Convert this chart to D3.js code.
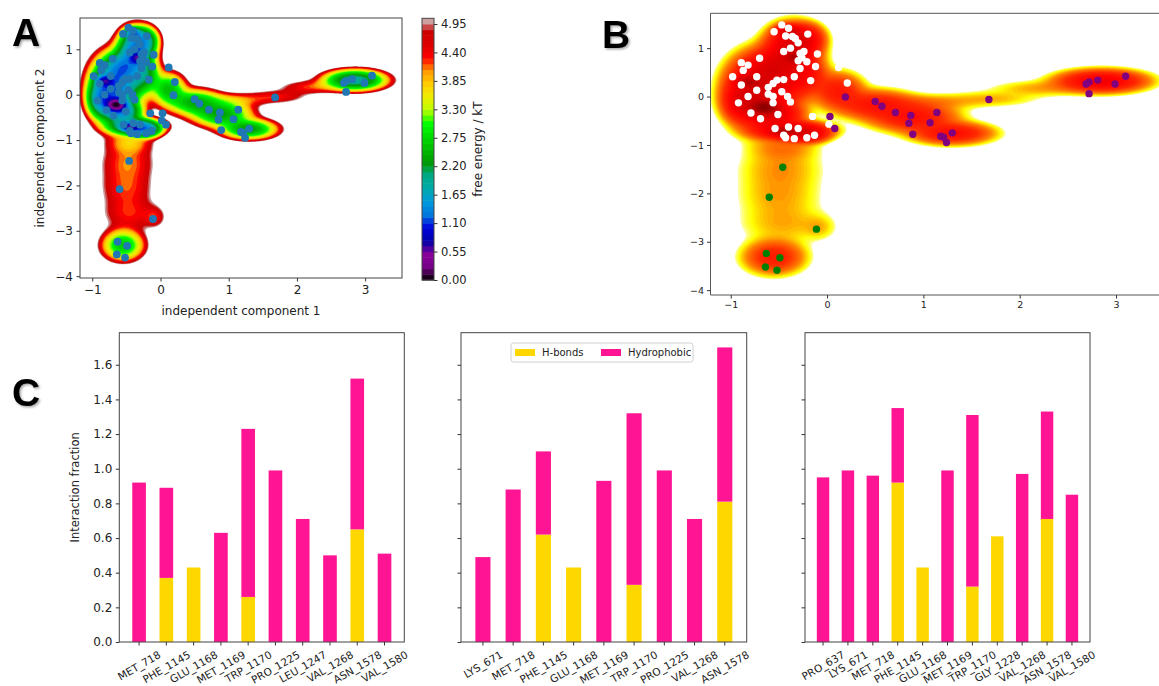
<!DOCTYPE html>
<html><head><meta charset="utf-8">
<script src="https://cdn.jsdelivr.net/npm/d3@7"></script>
<style>body{margin:0;background:#fff} svg{display:block}</style>
</head><body><svg id="c" width="1159" height="686"></svg>
<script>
// ---------------- DATA ----------------
// free-energy landscape basins read from the map: [x, y, spreadX, spreadY, population]
const basins = [
  [-0.72, 0.12, 0.17, 0.36, 0.18],
  [-0.36, 1.00, 0.14, 0.24, 0.18],
  [-0.38, -0.70, 0.20, 0.10, 0.16],
  [-0.45, 0.35, 0.18, 0.30, 0.07],
  [-0.22, 0.45, 0.12, 0.20, 0.05],
  [-0.55, 0.62, 0.14, 0.18, 0.10],
  [-0.55, -0.38, 0.15, 0.14, 0.12],
  [-0.88, -0.10, 0.10, 0.20, 0.10],
  [-0.22, -0.78, 0.12, 0.09, 0.10],
  [-0.22, 1.20, 0.10, 0.15, 0.08],
  [-0.65, -0.22, 0.08, 0.08, 0.50],
  [-0.33, 0.80, 0.06, 0.07, 0.22],
  [-0.45, -0.72, 0.07, 0.05, 0.22],
  [-0.82, 0.30, 0.07, 0.07, 0.20],
  [-0.40, 1.35, 0.07, 0.07, 0.15],
  [0.12, 0.12, 0.14, 0.20, 0.050],
  [0.50, -0.17, 0.22, 0.16, 0.055],
  [0.90, -0.43, 0.24, 0.16, 0.060],
  [1.30, -0.76, 0.22, 0.12, 0.065],
  [1.05, -0.12, 0.30, 0.10, 0.010],
  [1.70, -0.05, 0.30, 0.10, 0.008],
  [2.20, 0.17, 0.30, 0.10, 0.009],
  [2.85, 0.32, 0.24, 0.12, 0.105],
  [-0.45, -1.05, 0.20, 0.15, 0.012],
  [-0.48, -1.45, 0.26, 0.28, 0.010],
  [-0.50, -2.05, 0.26, 0.30, 0.009],
  [-0.45, -2.65, 0.28, 0.25, 0.008],
  [-0.08, -2.70, 0.10, 0.15, 0.006],
  [-0.55, -3.32, 0.17, 0.19, 0.048]
];
const whitePts = [[-0.55,1.34],[-0.47,1.48],[-0.40,1.41],[-0.43,1.25],[-0.36,1.24],[-0.30,1.11],[-0.20,1.29],[-0.45,0.93],[-0.38,1.00],[-0.28,0.89],[-0.24,0.93],[-0.10,0.88],[-0.30,0.74],[-0.21,0.72],[-0.12,0.62],[-0.28,0.58],[-0.34,0.41],[-0.17,0.33],[0.12,0.60],[0.21,0.28],
 [-0.89,0.70],[-0.82,0.65],[-0.70,0.79],[-0.98,0.41],[-0.73,0.41],[-0.89,0.24],[-0.82,0.00],[-0.73,0.13],[-0.61,0.19],[-0.56,0.27],[-0.52,0.34],[-0.45,0.35],[-0.61,0.05],[-0.56,0.00],[-0.47,0.10],[-0.41,0.00],[-0.38,-0.11],[-0.51,-0.37],[-0.56,-0.13],[-0.92,-0.13],[-0.79,-0.34],[-0.69,-0.46],
 [-0.54,-0.66],[-0.45,-0.80],[-0.40,-0.63],[-0.30,-0.66],[-0.34,-0.87],[-0.21,-0.85],[-0.13,-0.80],[-0.15,-0.41],[0.02,-0.57],[-0.43,-0.85],[-0.87,0.54],[-0.33,1.20],[-0.26,0.80]];
const purplePts = [[0.19,-0.01],[0.03,-0.41],[0.08,-0.66],[0.50,-0.10],[0.57,-0.20],[0.71,-0.33],[0.87,-0.39],[0.85,-0.55],[0.89,-0.78],[1.07,-0.54],[1.14,-0.33],[1.18,-0.82],[1.21,-0.84],[1.24,-0.95],[1.30,-0.75],[1.68,-0.06],[2.69,0.26],[2.72,0.30],[2.81,0.34],[2.72,0.06],[2.99,0.26],[3.10,0.42]];
const greenPts = [[-0.46,-1.46],[-0.60,-2.08],[-0.11,-2.74],[-0.63,-3.24],[-0.49,-3.33],[-0.64,-3.52],[-0.52,-3.59]];
const mapXTicks = [-1,0,1,2,3];
const mapYTicks = [-4,-3,-2,-1,0,1];
const cbTicks = [0,0.55,1.10,1.65,2.20,2.75,3.30,3.85,4.40,4.95];
const cbMax = 5.06, cbStep = 0.11;

const res1 = ["MET_718","PHE_1145","GLU_1168","MET_1169","TRP_1170","PRO_1225","LEU_1247","VAL_1268","ASN_1578","VAL_1580"];
const hb1  = [0,0.37,0.43,0,0.26,0,0,0,0.65,0];
const hp1  = [0.92,0.52,0,0.63,0.97,0.99,0.71,0.50,0.87,0.51];
const res2 = ["LYS_671","MET_718","PHE_1145","GLU_1168","MET_1169","TRP_1170","PRO_1225","VAL_1268","ASN_1578"];
const hb2  = [0,0,0.62,0.43,0,0.33,0,0,0.81];
const hp2  = [0.49,0.88,0.48,0,0.93,0.99,0.99,0.71,0.89];
const res3 = ["PRO_637","LYS_671","MET_718","PHE_1145","GLU_1168","MET_1169","TRP_1170","GLY_1228","VAL_1268","ASN_1578","VAL_1580"];
const hb3  = [0,0,0,0.92,0.43,0,0.32,0.61,0,0.71,0];
const hp3  = [0.95,0.99,0.96,0.43,0,0.99,0.99,0,0.97,0.62,0.85];
const barTicks = [0,0.2,0.4,0.6,0.8,1.0,1.2,1.4,1.6];

// ---------------- HELPERS ----------------
const FONT = "DejaVu Sans, sans-serif";
const svg = d3.select('#c');
const defs = svg.append('defs');
defs.append('filter').attr('id','sh').attr('x','-20%').attr('y','-20%').attr('width','150%').attr('height','150%')
  .append('feDropShadow').attr('dx',1.5).attr('dy',1.5).attr('stdDeviation',1.3).attr('flood-color','#000').attr('flood-opacity',0.35);

const NS_R=[0,.4667,.5333,0,0,0,0,0,0,0,0,0,0,.7333,.9333,1,1,1,.8667,.8,.8];
const NS_G=[0,0,0,0,0,.4667,.6,.6667,.6667,.6,.7333,.8667,1,1,.9333,.8,.6,0,0,0,.8];
const NS_B=[0,.5333,.6,.6667,.8667,.8667,.8667,.6667,.5333,0,0,0,0,0,0,0,0,0,0,0,.8];
function nipy(t){t=Math.max(0,Math.min(1,t));const p=t*20,i=Math.min(19,Math.floor(p)),f=p-i;
  const c=a=>Math.round(255*(a[i]+(a[i+1]-a[i])*f));return `rgb(${c(NS_R)},${c(NS_G)},${c(NS_B)})`;}
function hot(t){const cl=v=>Math.max(0,Math.min(1,v));
  return `rgb(${Math.round(255*cl(t/0.365))},${Math.round(255*cl((t-0.365)/0.381))},${Math.round(255*cl((t-0.746)/0.254))})`;}
const tB = d3.scaleLinear().domain([0,1.0,2.0,3.0,4.0,4.7,5.2,5.5]).range([0.2,0.3,0.36,0.43,0.56,0.7,0.82,0.93]).clamp(true);

function field(xs, ys, nx, ny){
  const [xa,xb]=xs.domain(), [ya,yb]=ys.domain();
  const dx=(xb-xa)/nx, dy=(yb-ya)/ny;
  const v=new Float64Array(nx*ny);
  for(let j=0;j<ny;j++){const y=yb-(j+0.5)*dy;
    for(let i=0;i<nx;i++){const x=xa+(i+0.5)*dx;let r=0;
      for(const [bx,by,sx,sy,w] of basins){const u=(x-bx)/sx,q=(y-by)/sy;r+=w*Math.exp(-0.5*(u*u+q*q));}
      v[j*nx+i]=r;}}
  const m=d3.max(v);
  for(let k=0;k<v.length;k++) v[k]=Math.log(Math.max(v[k],1e-300)/m); // = -F
  const path=d3.geoPath(d3.geoTransform({point(px,py){this.stream.point(xs(xa+px*dx), ys(yb-py*dy));}}));
  return {v,path,nx,ny};
}
function styleAxis(g, fs){
  g.attr('font-family',FONT).attr('font-size',fs);
  g.select('.domain').remove();
  g.selectAll('.tick line').attr('stroke','#333');
  g.selectAll('.tick text').attr('fill','#222');
}
function panelLetter(t,x,y){
  svg.append('text').attr('x',x).attr('y',y).text(t).attr('font-family','Liberation Sans, Arial, sans-serif')
    .attr('font-weight','bold').attr('font-size',39).attr('fill','#000').attr('filter','url(#sh)');
}

// ---------------- PANEL A ----------------
const A={x0:80,x1:402,y0:18,y1:278};
const ax=d3.scaleLinear().domain([-1.18,3.54]).range([A.x0,A.x1]);
const ay=d3.scaleLinear().domain([-4.04,1.69]).range([A.y1,A.y0]);
defs.append('clipPath').attr('id','clipA').append('rect').attr('x',A.x0).attr('y',A.y0).attr('width',A.x1-A.x0).attr('height',A.y1-A.y0);
const gA=svg.append('g').attr('clip-path','url(#clipA)');
const fA=field(ax,ay,300,270);
const levA=d3.range(1,47).map(i=>i*cbStep);
const contA=d3.contours().size([fA.nx,fA.ny]).thresholds(levA.map(L=>-L))(fA.v);
gA.selectAll('path').data(contA).join('path').attr('d',fA.path)
  .attr('fill',d=>nipy((-d.value-cbStep/2)/cbMax));
const allPts=whitePts.concat(purplePts,greenPts);
gA.selectAll('circle').data(allPts).join('circle').attr('cx',d=>ax(d[0])).attr('cy',d=>ay(d[1])).attr('r',3.9).attr('fill','#1f77b4');
svg.append('rect').attr('x',A.x0).attr('y',A.y0).attr('width',A.x1-A.x0).attr('height',A.y1-A.y0).attr('fill','none').attr('stroke','#444');
styleAxis(svg.append('g').attr('transform',`translate(0,${A.y1})`).call(d3.axisBottom(ax).tickValues(mapXTicks).tickFormat(d3.format('d')).tickSize(3.5).tickPadding(3.5)),12);
styleAxis(svg.append('g').attr('transform',`translate(${A.x0},0)`).call(d3.axisLeft(ay).tickValues(mapYTicks).tickFormat(d3.format('d')).tickSize(3.5).tickPadding(3.5)),12);
svg.append('text').attr('x',(A.x0+A.x1)/2).attr('y',315).attr('text-anchor','middle').attr('font-family',FONT).attr('font-size',12).attr('fill','#222').text('independent component 1');
svg.append('text').attr('transform',`translate(44,${(A.y0+A.y1)/2}) rotate(-90)`).attr('text-anchor','middle').attr('font-family',FONT).attr('font-size',12).attr('fill','#222').text('independent component 2');
// colorbar
const cbY=d3.scaleLinear().domain([0,cbMax]).range([280,18.3]);
const cbBands=d3.range(0,46).map(i=>i*cbStep);
svg.append('g').selectAll('rect').data(cbBands).join('rect').attr('x',422).attr('width',12)
  .attr('y',d=>cbY(d+cbStep)).attr('height',d=>cbY(d)-cbY(d+cbStep)+0.5).attr('fill',d=>nipy((d+cbStep/2)/cbMax));
svg.append('rect').attr('x',422).attr('y',18.3).attr('width',12).attr('height',280-18.3).attr('fill','none').attr('stroke','#444');
styleAxis(svg.append('g').attr('transform','translate(434,0)').call(d3.axisRight(cbY).tickValues(cbTicks).tickFormat(d3.format('.2f')).tickSize(3.5).tickPadding(3.5)),11.5);
svg.append('text').attr('transform','translate(478,149) rotate(-90)').attr('text-anchor','middle').attr('dominant-baseline','central').attr('font-family',FONT).attr('font-size',12).attr('fill','#222').text('free energy / kT');

// ---------------- PANEL B ----------------
const B={x0:710.5,x1:1169,y0:13.3,y1:295};
const bx=d3.scaleLinear().domain([-1.21,3.55]).range([B.x0,B.x1]);
const by=d3.scaleLinear().domain([-4.10,1.72]).range([B.y1,B.y0]);
defs.append('clipPath').attr('id','clipB').append('rect').attr('x',B.x0).attr('y',B.y0).attr('width',B.x1-B.x0).attr('height',B.y1-B.y0);
const gB=svg.append('g').attr('clip-path','url(#clipB)');
const fB=field(bx,by,320,260);
const levB=d3.range(1,56).map(i=>i*0.1);
const contB=d3.contours().size([fB.nx,fB.ny]).thresholds(levB.map(L=>-L))(fB.v);
gB.selectAll('path').data(contB).join('path').attr('d',fB.path).attr('fill',d=>hot(tB(-d.value-0.05)));
gB.append('g').selectAll('circle').data(whitePts).join('circle').attr('cx',d=>bx(d[0])).attr('cy',d=>by(d[1])).attr('r',3.7).attr('fill','#fff');
gB.append('g').selectAll('circle').data(purplePts).join('circle').attr('cx',d=>bx(d[0])).attr('cy',d=>by(d[1])).attr('r',3.7).attr('fill','#800080');
gB.append('g').selectAll('circle').data(greenPts).join('circle').attr('cx',d=>bx(d[0])).attr('cy',d=>by(d[1])).attr('r',3.7).attr('fill','#008000');
svg.append('path').attr('d',`M${B.x1},${B.y0}H${B.x0}V${B.y1}H${B.x1}`).attr('fill','none').attr('stroke','#555');
styleAxis(svg.append('g').attr('transform',`translate(0,${B.y1})`).call(d3.axisBottom(bx).tickValues(mapXTicks).tickFormat(d3.format('d')).tickSize(3.5).tickPadding(3)),9.5);
styleAxis(svg.append('g').attr('transform',`translate(${B.x0},0)`).call(d3.axisLeft(by).tickValues(mapYTicks).tickFormat(d3.format('d')).tickSize(3.5).tickPadding(3)),9.5);

// ---------------- PANEL C ----------------
const cy0=332.7, cy1=642;
const yC=d3.scaleLinear().domain([0,1.785]).range([cy1,cy0]);
const LBL=10.5;
function barChart(x0,x1,res,hb,hp,showLabels){
  const xs=d3.scaleBand().domain(res).range([x0,x1]).paddingInner(0.5).paddingOuter(0.475);
  const g=svg.append('g');
  g.selectAll('.hb').data(res).join('rect').attr('x',d=>xs(d)).attr('width',xs.bandwidth())
    .attr('y',(d,i)=>yC(hb[i])).attr('height',(d,i)=>yC(0)-yC(hb[i])).attr('fill','#ffd700');
  g.selectAll('.hp').data(res).join('rect').attr('x',d=>xs(d)).attr('width',xs.bandwidth())
    .attr('y',(d,i)=>yC(hb[i]+hp[i])).attr('height',(d,i)=>yC(hb[i])-yC(hb[i]+hp[i])).attr('fill','#ff1493');
  svg.append('rect').attr('x',x0).attr('y',cy0).attr('width',x1-x0).attr('height',cy1-cy0).attr('fill','none').attr('stroke','#444');
  const ga=svg.append('g').attr('transform',`translate(0,${cy1})`).call(d3.axisBottom(xs).tickSize(3.5).tickFormat(''));
  styleAxis(ga,LBL);
  ga.selectAll('.tick').each(function(d){
    const t=d3.select(this).append('text').attr('fill','#222').attr('text-anchor','middle').attr('dominant-baseline','central').text(d);
    const w=t.node().getComputedTextLength();
    const c=7+(w*0.5+LBL*0.866)/2;
    t.attr('transform',`translate(0,${c}) rotate(-30)`);
  });
  const gy=svg.append('g').attr('transform',`translate(${x0},0)`).call(d3.axisLeft(yC).tickValues(barTicks).tickSize(3.5).tickPadding(3.5).tickFormat(showLabels?d3.format('.1f'):''));
  styleAxis(gy,12);
  return xs;
}
barChart(119.3,404.3,res1,hb1,hp1,true);
barChart(461,746.7,res2,hb2,hp2,false);
barChart(805,1090,res3,hb3,hp3,false);
svg.append('text').attr('transform',`translate(79,${(cy0+cy1)/2}) rotate(-90)`).attr('text-anchor','middle').attr('font-family',FONT).attr('font-size',11.5).attr('fill','#222').text('Interaction fraction');
// legend
const lg=svg.append('g').attr('font-family',FONT).attr('font-size',10).attr('fill','#222');
lg.append('rect').attr('x',511).attr('y',343).attr('width',182).attr('height',19).attr('rx',2.5).attr('fill','#fff').attr('stroke','#d0d0d0');
const legendItems=[["H-bonds","#ffd700",515],["Hydrophobic","#ff1493",601]];
legendItems.forEach(([name,col,x])=>{
  lg.append('rect').attr('x',x).attr('y',349).attr('width',20).attr('height',7).attr('fill',col);
  lg.append('text').attr('x',x+27).attr('y',356).text(name);
});

panelLetter('A',12,46);
panelLetter('B',602,48);
panelLetter('C',12,406);
</script></body></html>
